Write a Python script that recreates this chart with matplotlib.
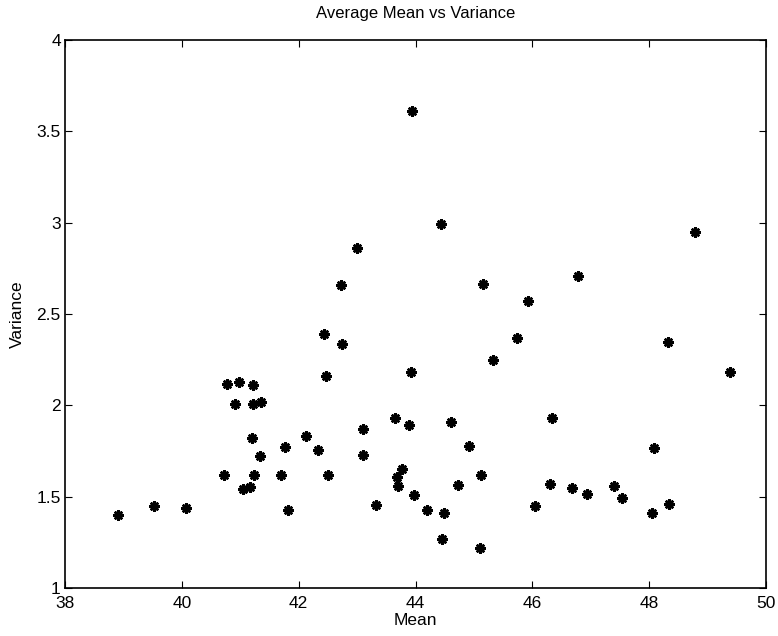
import matplotlib.pyplot as plt
import numpy as np

plt.rcParams['font.family'] = ['Liberation Sans', 'DejaVu Sans']

mean = [38.91, 39.52, 40.07, 40.77, 40.98, 41.21, 40.91, 41.22, 41.36, 41.20,
        41.77, 41.33, 40.73, 41.24, 41.70, 41.04, 41.16, 41.82,
        43.94, 44.43, 43.00, 42.73, 45.15, 45.92,
        42.44, 42.74, 42.46, 45.73, 45.33, 43.92, 43.65, 43.89, 44.60, 43.10,
        42.12, 42.33, 43.10, 44.92, 43.77, 43.69, 43.70, 42.50, 45.12, 44.73,
        43.97, 43.33, 44.19, 44.49, 44.45, 45.11,
        48.79, 46.78, 48.33, 49.39, 46.34, 48.08, 46.30, 46.68, 46.93, 47.40,
        47.53, 46.05, 48.05, 48.34]
variance = [1.40, 1.45, 1.44, 2.117, 2.126, 2.11, 2.01, 2.01, 2.02, 1.82,
            1.77, 1.72, 1.62, 1.62, 1.62, 1.54, 1.555, 1.425,
            3.614, 2.99, 2.86, 2.66, 2.665, 2.57,
            2.39, 2.335, 2.16, 2.37, 2.25, 2.185, 1.93, 1.89, 1.91, 1.87,
            1.83, 1.755, 1.73, 1.78, 1.65, 1.61, 1.56, 1.62, 1.62, 1.565,
            1.51, 1.455, 1.425, 1.41, 1.27, 1.22,
            2.948, 2.71, 2.345, 2.18, 1.93, 1.765, 1.57, 1.55, 1.515, 1.56,
            1.49, 1.45, 1.41, 1.46]

xticks = [38, 40, 42, 44, 46, 48, 50]
yticks = [1, 1.5, 2, 2.5, 3, 3.5, 4]
ylabels = ['1', '1.5', '2', '2.5', '3', '3.5', '4']

fig = plt.figure(figsize=(7.78, 6.36), dpi=100)
ax = fig.add_axes([65/778, 48/636, 701/778, 548/636])

ax.plot(mean, variance, linestyle='none', marker=(8, 2, 0), markersize=7.5,
        markeredgewidth=1.8, color='black')

ax.set_xlim(38, 50)
ax.set_ylim(1, 4)
ax.set_xticks(xticks)
ax.set_yticks(yticks)
ax.set_yticklabels(ylabels)
ax.tick_params(direction='in', top=True, right=True, labelsize=12.5, length=5)
ax.tick_params(axis='x', pad=6)
ax.tick_params(axis='y', pad=3)
for s in ax.spines.values():
    s.set_linewidth(1.2)

ax.set_title('Average Mean vs Variance', fontsize=12, pad=16)
ax.set_xlabel('Mean', fontsize=12.5, labelpad=1)
ax.set_ylabel('Variance', fontsize=12.5, labelpad=8)

plt.savefig('out.png')
